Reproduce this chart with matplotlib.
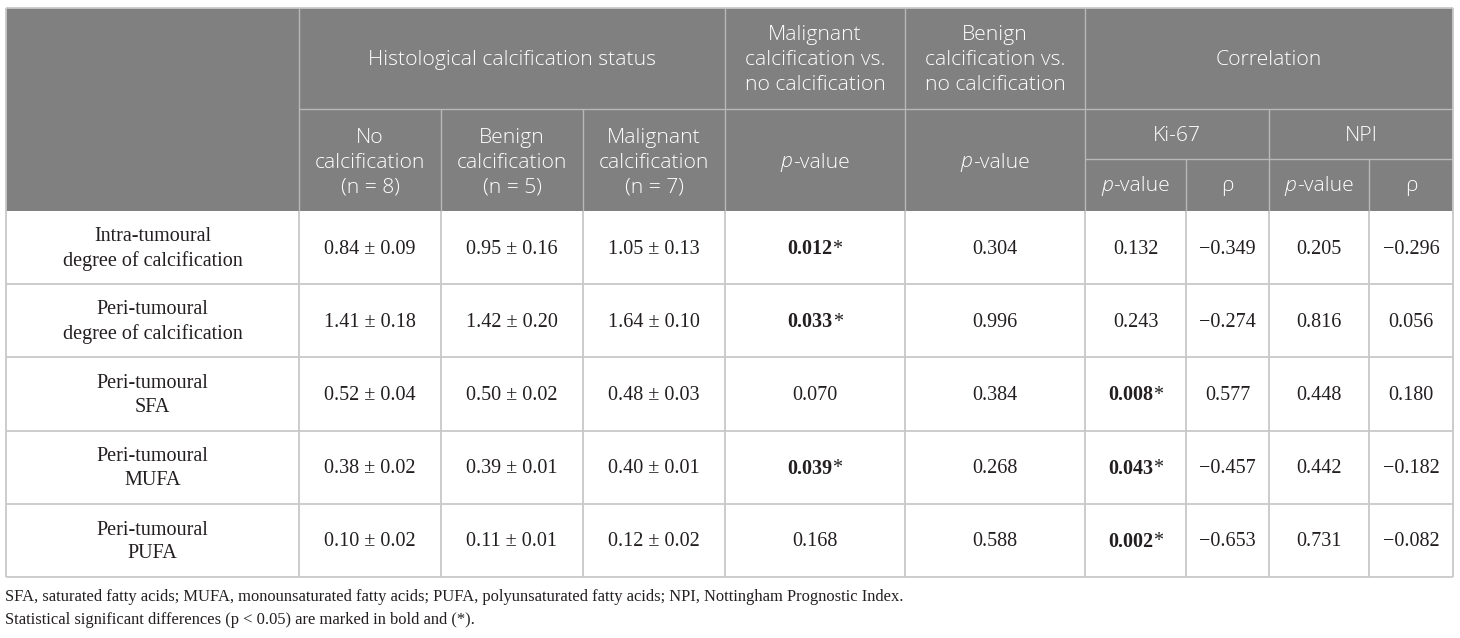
import matplotlib
matplotlib.use("Agg")
from matplotlib import pyplot as plt
from matplotlib.patches import Rectangle

row_labels = ["Intra-tumoural\ndegree of calcification",
              "Peri-tumoural\ndegree of calcification",
              "Peri-tumoural\nSFA",
              "Peri-tumoural\nMUFA",
              "Peri-tumoural\nPUFA"]
no_calc = ["0.84 ± 0.09", "1.41 ± 0.18", "0.52 ± 0.04", "0.38 ± 0.02", "0.10 ± 0.02"]
benign_calc = ["0.95 ± 0.16", "1.42 ± 0.20", "0.50 ± 0.02", "0.39 ± 0.01", "0.11 ± 0.01"]
malig_calc = ["1.05 ± 0.13", "1.64 ± 0.10", "0.48 ± 0.03", "0.40 ± 0.01", "0.12 ± 0.02"]
p_malig_vs_no = [0.012, 0.033, 0.070, 0.039, 0.168]
p_benign_vs_no = [0.304, 0.996, 0.384, 0.268, 0.588]
ki67_p = [0.132, 0.243, 0.008, 0.043, 0.002]
ki67_rho = [-0.349, -0.274, 0.577, -0.457, -0.653]
npi_p = [0.205, 0.816, 0.448, 0.442, 0.731]
npi_rho = [-0.296, 0.056, 0.180, -0.182, -0.082]

group_headers = ["No\ncalcification\n(n = 8)", "Benign\ncalcification\n(n = 5)",
                 "Malignant\ncalcification\n(n = 7)"]
footnotes = ["SFA, saturated fatty acids; MUFA, monounsaturated fatty acids; "
             "PUFA, polyunsaturated fatty acids; NPI, Nottingham Prognostic Index.",
             "Statistical significant differences (p < 0.05) are marked in bold and (*)."]

# layout in pixels
xs = [6, 299, 441, 583, 725, 905, 1085, 1186, 1269, 1369, 1453]
h_top, h_mid, h_sub, h_bot = 8, 109, 159, 211
row_h = 73.2

HEAD = ["Open Sans", "DejaVu Sans"]
BODY = ["Liberation Serif", "DejaVu Serif"]
hs = 15.2
bs = 14.5
fs = 11.9
hw = "light"
hbg = "#808080"
hline = "#b8b8b8"
gline = "#c8c8c8"
tcol = "#231f20"

fig = plt.figure(figsize=(14.6, 6.38), dpi=100)
ax = fig.add_axes([0, 0, 1, 1])
ax.set_xlim(0, 1460)
ax.set_ylim(638, 0)
ax.axis("off")
renderer = fig.canvas.get_renderer()


def pieces(x, y, parts, size, color):
    # parts: list of (text, family, weight, style)
    arts = []
    for txt, fam, wt, st in parts:
        arts.append(ax.text(0, y, txt, family=fam, weight=wt, style=st, fontsize=size,
                            color=color, ha="left", va="center"))
    widths = [a.get_window_extent(renderer).width for a in arts]
    cur = x - sum(widths) / 2
    for a, w in zip(arts, widths):
        a.set_x(cur)
        cur += w


def pval_header(x, y):
    pieces(x, y, [("p", HEAD, hw, "italic"), ("-value", HEAD, hw, "normal")], hs, "white")


def htext(x, y, s):
    ax.text(x, y, s, family=HEAD, weight=hw, fontsize=hs, color="white", ha="center",
            va="center", linespacing=1.33)


def line(x0, y0, x1, y1, c, lw=1.0):
    ax.plot([x0, x1], [y0, y1], color=c, lw=lw, solid_capstyle="butt")


# header background
ax.add_patch(Rectangle((xs[0], h_top), xs[-1] - xs[0], h_bot - h_top, color=hbg, lw=0))

# header lines
line(xs[1], h_mid, xs[-1], h_mid, hline)
line(xs[6], h_sub, xs[-1], h_sub, hline)
for i in [1, 4, 5, 6]:
    line(xs[i], h_top, xs[i], h_bot, hline)
for i in [2, 3, 8]:
    line(xs[i], h_mid, xs[i], h_bot, hline)
for i in [7, 9]:
    line(xs[i], h_sub, xs[i], h_bot, hline)

# header texts
ym1 = (h_top + h_mid) / 2 + 1.5
ym2 = (h_mid + h_bot) / 2 + 2.5
htext((xs[1] + xs[4]) / 2, ym1, "Histological calcification status")
htext((xs[4] + xs[5]) / 2, ym1, "Malignant\ncalcification vs.\nno calcification")
htext((xs[5] + xs[6]) / 2, ym1, "Benign\ncalcification vs.\nno calcification")
htext((xs[6] + xs[10]) / 2, ym1, "Correlation")
for i, lab in enumerate(group_headers):
    htext((xs[i + 1] + xs[i + 2]) / 2, ym2, lab)
pval_header((xs[4] + xs[5]) / 2, ym2)
pval_header((xs[5] + xs[6]) / 2, ym2)
htext((xs[6] + xs[8]) / 2, (h_mid + h_sub) / 2 + 2, "Ki-67")
htext((xs[8] + xs[10]) / 2, (h_mid + h_sub) / 2 + 2, "NPI")
for i in [6, 8]:
    pval_header((xs[i] + xs[i + 1]) / 2, (h_sub + h_bot) / 2 + 1)
    htext((xs[i + 1] + xs[i + 2]) / 2, (h_sub + h_bot) / 2 + 1, "ρ")

# body grid
n = len(row_labels)
ys = [h_bot + k * row_h for k in range(n + 1)]
for y in ys[1:]:
    line(xs[0], y, xs[-1], y, gline, 1.3)
for x in xs:
    line(x, h_bot, x, ys[-1], gline, 1.3)
line(xs[0], h_top, xs[-1], h_top, gline, 1.3)
line(xs[0], h_top, xs[0], h_bot, gline, 1.3)
line(xs[-1], h_top, xs[-1], h_bot, gline, 1.3)


def fmt(v):
    s = f"{abs(v):.3f}"
    return ("−" + s) if v < 0 else s


def btext(x, y, s):
    ax.text(x, y, s, family=BODY, fontsize=bs, color=tcol, ha="center", va="center",
            linespacing=1.32)


def pcell(x, y, v):
    if v < 0.05:
        pieces(x, y, [(fmt(v), BODY, "bold", "normal"), ("*", BODY, "normal", "normal")], bs, tcol)
    else:
        btext(x, y, fmt(v))


for r in range(n):
    yc = (ys[r] + ys[r + 1]) / 2 + 1.5
    cols = [row_labels[r], no_calc[r], benign_calc[r], malig_calc[r]]
    for c, txt in enumerate(cols):
        btext((xs[c] + xs[c + 1]) / 2, yc, txt)
    pcell((xs[4] + xs[5]) / 2, yc, p_malig_vs_no[r])
    pcell((xs[5] + xs[6]) / 2, yc, p_benign_vs_no[r])
    pcell((xs[6] + xs[7]) / 2, yc, ki67_p[r])
    btext((xs[7] + xs[8]) / 2, yc, fmt(ki67_rho[r]))
    pcell((xs[8] + xs[9]) / 2, yc, npi_p[r])
    btext((xs[9] + xs[10]) / 2, yc, fmt(npi_rho[r]))

# footnotes
for k, t in enumerate(footnotes):
    ax.text(xs[0] - 1, 597 + k * 23, t, family=BODY, fontsize=fs, color=tcol,
            ha="left", va="center")

fig.savefig("out.png", dpi=100, facecolor="white")
